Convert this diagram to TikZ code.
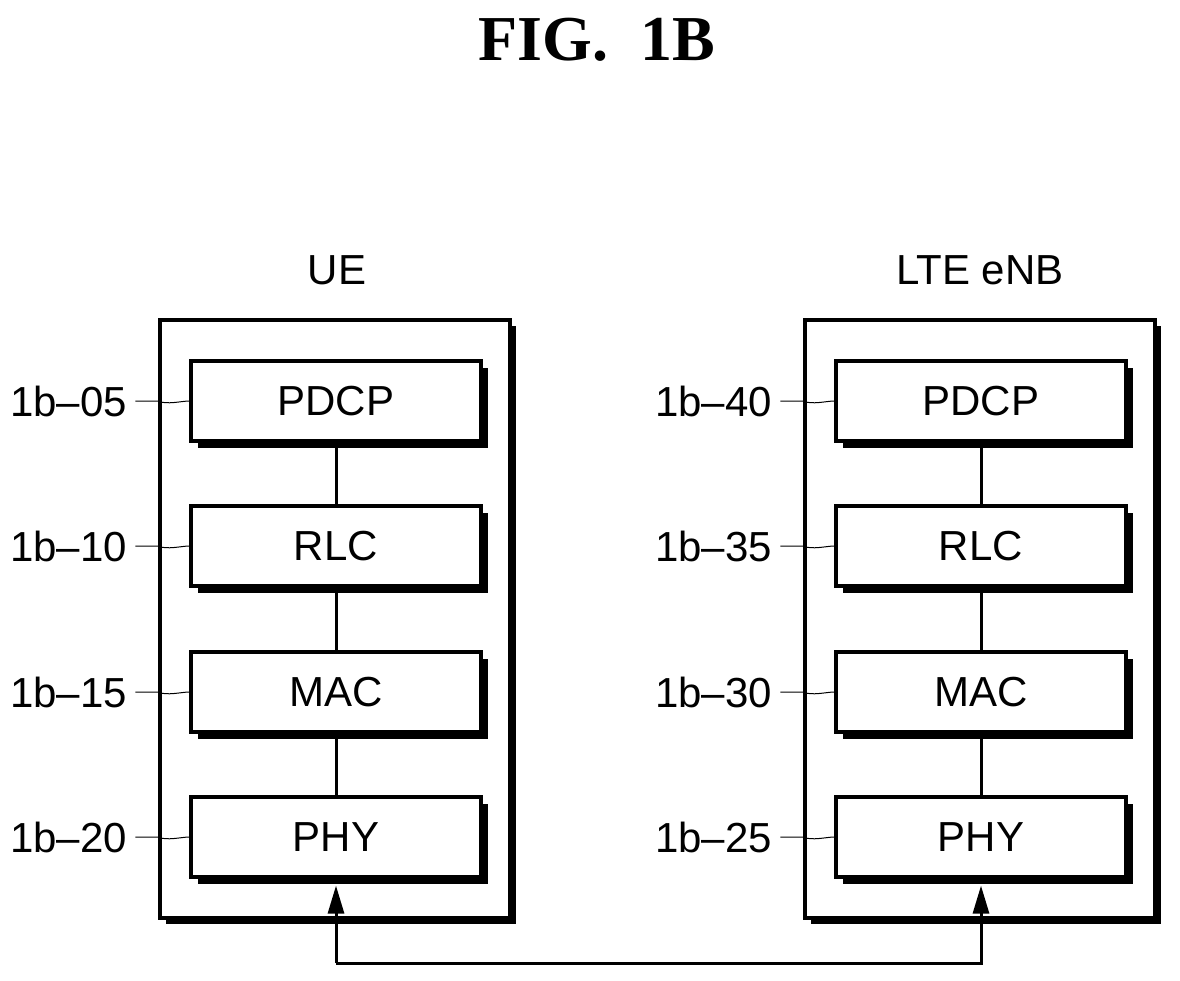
\documentclass[tikz,border=0pt]{standalone}
\usepackage{fontspec}
\setmainfont{Liberation Sans}
\newfontfamily\titlefont{Liberation Serif}
\usetikzlibrary{shadows,arrows.meta}
\begin{document}
\begin{tikzpicture}[x=0.5pt,y=-0.5pt,
  outer/.style={draw,line width=1.6pt,fill=white,minimum width=175pt,minimum height=299pt,inner sep=0,
    drop shadow={shadow xshift=3pt,shadow yshift=-3pt,fill=black,opacity=1}},
  layer/.style={draw,line width=1.6pt,fill=white,minimum width=145pt,minimum height=40pt,inner sep=0,
    font=\fontsize{21}{24}\selectfont,
    drop shadow={shadow xshift=3.5pt,shadow yshift=-3.5pt,fill=black,opacity=1}},
  lab/.style={anchor=east,font=\fontsize{21}{24}\selectfont,inner sep=0},
  conn/.style={line width=1.5pt},
  lead/.style={line width=0.5pt}]
\useasboundingbox (0,0) rectangle (1180,981);
\node[font=\titlefont\bfseries\fontsize{32}{36}\selectfont] (title) at (597,40) {FIG.\ \ 1B};
\node[font=\fontsize{21}{24}\selectfont] (ue) at (337,270) {UE};
\node[font=\fontsize{21}{24}\selectfont] (enb) at (980,270) {LTE eNB};
\node[outer] (boxL) at (335,619) {};
\node[outer] (boxR) at (980,619) {};
\foreach \n/\t/\y in {1/PDCP/401,2/RLC/546,3/MAC/692,4/PHY/837}{
  \node[layer] (L\n) at (336,\y) {\t};
  \node[layer] (R\n) at (981,\y) {\t};
}
\foreach \a/\b in {1/2,2/3,3/4}{
  \draw[conn] (L\a) -- (L\b);
  \draw[conn] (R\a) -- (R\b);
}
\coordinate (cL) at (336,963);
\coordinate (cR) at (981,963);
\draw[conn,-{Triangle[length=14pt,width=8pt]}] (cL) -- ([yshift=-3.5pt]L4.south);
\draw[conn,-{Triangle[length=14pt,width=8pt]}] (cL) -- (cR) -- ([yshift=-3.5pt]R4.south);
\foreach \n/\t/\s in {1/1b–05/L,2/1b–10/L,3/1b–15/L,4/1b–20/L,1/1b–40/R,2/1b–35/R,3/1b–30/R,4/1b–25/R}{
  \node[lab] (t\s\n) at ([xshift=-31pt]\s\n.west) {\t};
  \draw[lead] (t\s\n.east) ++(4pt,0) -- ++(11pt,0) .. controls ++(5pt,-2pt) and ++(-4pt,0) .. (\s\n.west);
}
\end{tikzpicture}
\end{document}
